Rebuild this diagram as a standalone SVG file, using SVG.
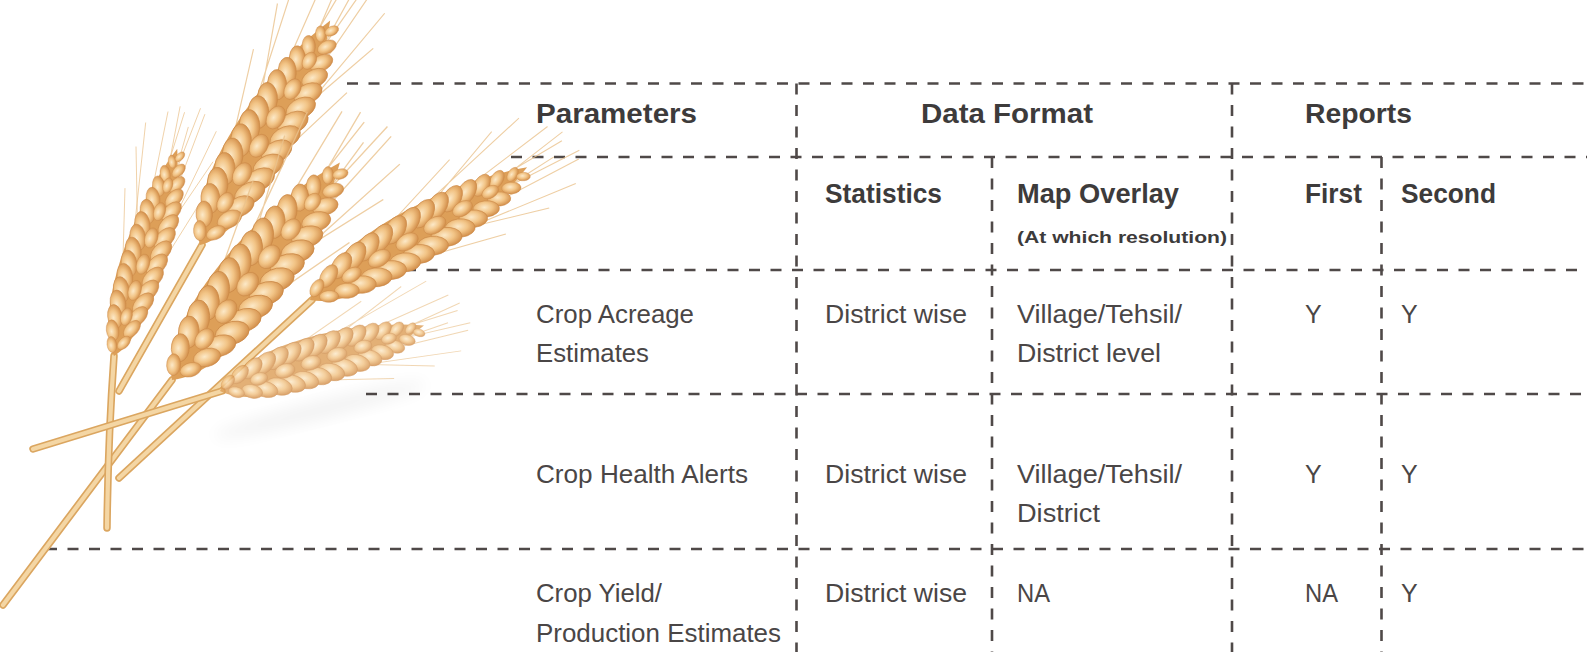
<svg xmlns="http://www.w3.org/2000/svg" xmlns:xlink="http://www.w3.org/1999/xlink" width="1587" height="652" viewBox="0 0 1587 652">
<style>
.dash{stroke:#4f4948;stroke-width:2.6;stroke-dasharray:11 10.5;fill:none}
.h{font-family:"Liberation Sans",Arial,sans-serif;font-weight:bold;font-size:27px;fill:#3d3b3b}
.hs{font-family:"Liberation Sans",Arial,sans-serif;font-weight:bold;font-size:17px;fill:#3d3b3b}
.t{font-family:"Liberation Sans",Arial,sans-serif;font-size:25px;fill:#4a4646}
.awn{stroke:#eac28c;stroke-width:0.9;fill:none;opacity:0.8}
.stO{stroke:#dba660;stroke-width:7.5;fill:none;stroke-linecap:round}
.stI{stroke:#f4d6a4;stroke-width:4.2;fill:none;stroke-linecap:round}
</style>
<defs>
<radialGradient id="gg" cx="0.45" cy="0.4" r="0.62">
<stop offset="0" stop-color="#fce9c8"/>
<stop offset="0.5" stop-color="#f2c486"/>
<stop offset="1" stop-color="#d08a45"/>
</radialGradient>
<ellipse id="gr" cx="0" cy="0" rx="15" ry="8" fill="url(#gg)" stroke="#cc8a48" stroke-width="0.6"/>
<g id="ear">
<g class="awn">
<path d="M120,-14 L270,-40 M140,12 L285,30 M160,-10 L290,-22 M175,8 L300,14 M190,-6 L295,-6 M200,4 L280,2 M150,-16 L240,-42 M165,14 L250,36 M210,-3 L300,-12 M215,3 L305,8 M100,-18 L190,-40 M110,16 L200,36"/>
</g>
<path d="M0,0 C40,-32 170,-28 252,-2 C170,24 40,30 0,0Z" fill="#dd9f58"/>
<use xlink:href="#gr" transform="translate(236,-3) rotate(-20) scale(0.5)"/>
<use xlink:href="#gr" transform="translate(244,3) rotate(20) scale(0.45)"/>
<use xlink:href="#gr" transform="translate(220,-6) rotate(-20) scale(0.65)"/>
<use xlink:href="#gr" transform="translate(228,6) rotate(20) scale(0.62)"/>
<use xlink:href="#gr" transform="translate(204,-8.5) rotate(-20) scale(0.78)"/>
<use xlink:href="#gr" transform="translate(212,8.5) rotate(20) scale(0.75)"/>
<use xlink:href="#gr" transform="translate(208,0) scale(0.6)"/>
<use xlink:href="#gr" transform="translate(188,-10) rotate(-20) scale(0.88)"/>
<use xlink:href="#gr" transform="translate(196,10) rotate(20) scale(0.85)"/>
<use xlink:href="#gr" transform="translate(172,-11.5) rotate(-20) scale(0.93)"/>
<use xlink:href="#gr" transform="translate(180,11.5) rotate(20) scale(0.92)"/>
<use xlink:href="#gr" transform="translate(176,0) scale(0.72)"/>
<use xlink:href="#gr" transform="translate(156,-12.5) rotate(-20) scale(0.97)"/>
<use xlink:href="#gr" transform="translate(164,12.5) rotate(20) scale(0.97)"/>
<use xlink:href="#gr" transform="translate(140,-13) rotate(-20)"/>
<use xlink:href="#gr" transform="translate(148,13) rotate(20)"/>
<use xlink:href="#gr" transform="translate(144,0) scale(0.8)"/>
<use xlink:href="#gr" transform="translate(124,-13.5) rotate(-20)"/>
<use xlink:href="#gr" transform="translate(132,13.5) rotate(20)"/>
<use xlink:href="#gr" transform="translate(108,-13.5) rotate(-20)"/>
<use xlink:href="#gr" transform="translate(116,13.5) rotate(20)"/>
<use xlink:href="#gr" transform="translate(112,0) scale(0.8)"/>
<use xlink:href="#gr" transform="translate(92,-13.5) rotate(-20)"/>
<use xlink:href="#gr" transform="translate(100,13.5) rotate(20)"/>
<use xlink:href="#gr" transform="translate(76,-13) rotate(-20)"/>
<use xlink:href="#gr" transform="translate(84,13) rotate(20)"/>
<use xlink:href="#gr" transform="translate(80,0) scale(0.8)"/>
<use xlink:href="#gr" transform="translate(60,-12) rotate(-20)"/>
<use xlink:href="#gr" transform="translate(68,12) rotate(20)"/>
<use xlink:href="#gr" transform="translate(44,-11) rotate(-20) scale(0.92)"/>
<use xlink:href="#gr" transform="translate(52,11) rotate(20) scale(0.92)"/>
<use xlink:href="#gr" transform="translate(48,0) scale(0.7)"/>
<use xlink:href="#gr" transform="translate(28,-9) rotate(-20) scale(0.8)"/>
<use xlink:href="#gr" transform="translate(36,9) rotate(20) scale(0.8)"/>
<use xlink:href="#gr" transform="translate(12,-5.5) rotate(-20) scale(0.62)"/>
<use xlink:href="#gr" transform="translate(18,5.5) rotate(20) scale(0.62)"/>
</g>
<filter id="blur" x="-50%" y="-50%" width="200%" height="200%"><feGaussianBlur stdDeviation="8"/></filter>
</defs>
<rect width="1587" height="652" fill="#ffffff"/>
<g id="connectors">
<path class="dash" d="M347,83.5 H1587"/>
<path class="dash" d="M511,157 H1587"/>
<path class="dash" d="M405,270 H1587"/>
<path class="dash" d="M366,394 H1587"/>
<path class="dash" d="M46,549 H1587"/>
<path class="dash" d="M796.5,83.5 V652"/>
<path class="dash" d="M992,157 V652"/>
<path class="dash" d="M1232,83.5 V652"/>
<path class="dash" d="M1381.5,157 V652"/>
</g>
<g id="wheat">
<ellipse cx="320" cy="410" rx="110" ry="9" transform="rotate(-14 320 410)" fill="#000" opacity="0.05" filter="url(#blur)"/>
<g id="stems">
<path class="stO" d="M3,605 L172,380"/><path class="stI" d="M3,605 L172,380"/>
<path class="stO" d="M107,528 Q108,440 114,356"/><path class="stI" d="M107,528 Q108,440 114,356"/>
<path class="stO" d="M119,391 L202,245"/><path class="stI" d="M119,391 L202,245"/>
<path class="stO" d="M119,478 L312,300"/><path class="stI" d="M119,478 L312,300"/>
<path class="stO" d="M33,449 L222,391"/><path class="stI" d="M33,449 L222,391"/>
</g>
<use id="ear1" xlink:href="#ear" transform="translate(114,356) rotate(-72.5) scale(0.86,1.0)"/>
<use id="ear2" xlink:href="#ear" transform="translate(200,245) rotate(-59.3) scale(1.03,1.35)"/>
<use id="ear3" xlink:href="#ear" transform="translate(172,380) rotate(-51.7) scale(1.09,1.5)"/>
<use id="ear4" xlink:href="#ear" transform="translate(310,300) rotate(-30.9) scale(1.01,1.22)"/>
<use id="ear5" xlink:href="#ear" transform="translate(220,391) rotate(-17.2) scale(0.85,1.1)" opacity="0.82"/>
</g>
<g id="hdr-parameters"><text class="h" x="536" y="123" textLength="161" lengthAdjust="spacingAndGlyphs">Parameters</text></g>
<g id="hdr-dataformat"><text class="h" x="921" y="123" textLength="172" lengthAdjust="spacingAndGlyphs">Data Format</text></g>
<g id="hdr-reports"><text class="h" x="1305" y="123" textLength="107" lengthAdjust="spacingAndGlyphs">Reports</text></g>
<g id="hdr-statistics"><text class="h" x="825" y="203" textLength="117" lengthAdjust="spacingAndGlyphs">Statistics</text></g>
<g id="hdr-mapoverlay"><text class="h" x="1017" y="203" textLength="162" lengthAdjust="spacingAndGlyphs">Map Overlay</text>
<text class="hs" x="1017" y="243" textLength="210" lengthAdjust="spacingAndGlyphs">(At which resolution)</text></g>
<g id="hdr-first"><text class="h" x="1305" y="203" textLength="57" lengthAdjust="spacingAndGlyphs">First</text></g>
<g id="hdr-second"><text class="h" x="1401" y="203" textLength="95" lengthAdjust="spacingAndGlyphs">Second</text></g>
<g id="row1">
<text class="t" x="536" y="323" textLength="158" lengthAdjust="spacingAndGlyphs">Crop Acreage</text>
<text class="t" x="536" y="362" textLength="113" lengthAdjust="spacingAndGlyphs">Estimates</text>
<text class="t" x="825" y="323" textLength="142" lengthAdjust="spacingAndGlyphs">District wise</text>
<text class="t" x="1017" y="323" textLength="165" lengthAdjust="spacingAndGlyphs">Village/Tehsil/</text>
<text class="t" x="1017" y="362" textLength="144" lengthAdjust="spacingAndGlyphs">District level</text>
<text class="t" x="1305" y="323">Y</text>
<text class="t" x="1401" y="323">Y</text>
</g>
<g id="row2">
<text class="t" x="536" y="483" textLength="212" lengthAdjust="spacingAndGlyphs">Crop Health Alerts</text>
<text class="t" x="825" y="483" textLength="142" lengthAdjust="spacingAndGlyphs">District wise</text>
<text class="t" x="1017" y="483" textLength="165" lengthAdjust="spacingAndGlyphs">Village/Tehsil/</text>
<text class="t" x="1017" y="522" textLength="83" lengthAdjust="spacingAndGlyphs">District</text>
<text class="t" x="1305" y="483">Y</text>
<text class="t" x="1401" y="483">Y</text>
</g>
<g id="row3">
<text class="t" x="536" y="602" textLength="126" lengthAdjust="spacingAndGlyphs">Crop Yield/</text>
<text class="t" x="536" y="642" textLength="245" lengthAdjust="spacingAndGlyphs">Production Estimates</text>
<text class="t" x="825" y="602" textLength="142" lengthAdjust="spacingAndGlyphs">District wise</text>
<text class="t" x="1017" y="602" textLength="33" lengthAdjust="spacingAndGlyphs">NA</text>
<text class="t" x="1305" y="602" textLength="33" lengthAdjust="spacingAndGlyphs">NA</text>
<text class="t" x="1401" y="602">Y</text>
</g>
</svg>
